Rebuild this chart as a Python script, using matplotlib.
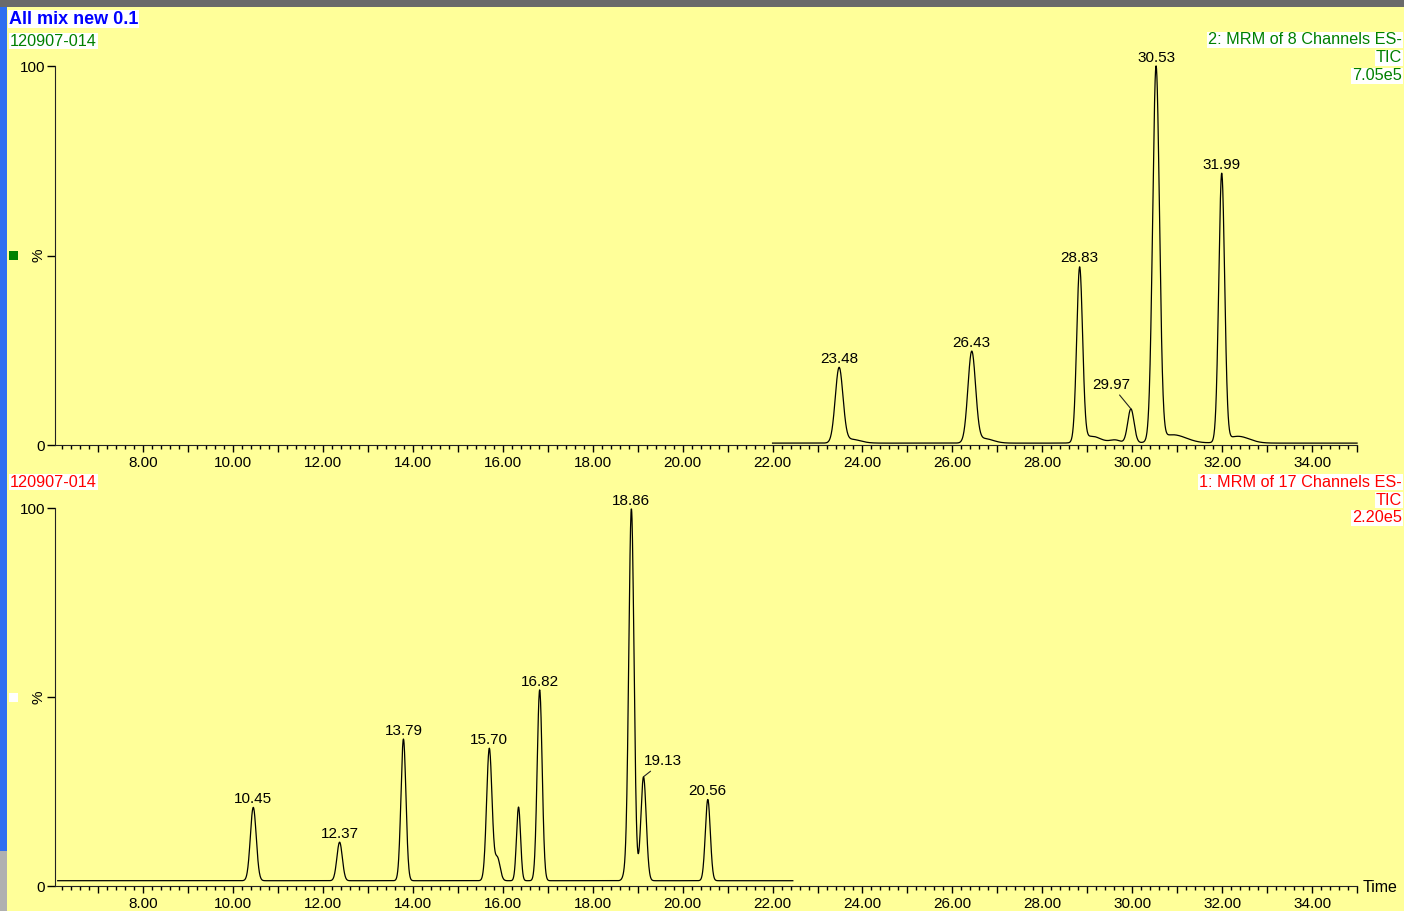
import numpy as np
import matplotlib
matplotlib.use("Agg")
import matplotlib.pyplot as plt
from matplotlib.patches import Rectangle
from matplotlib.ticker import MultipleLocator, FuncFormatter

plt.rcParams['font.family'] = ['Liberation Sans', 'DejaVu Sans']

# ---- data ----
# channel 2 (top): retention time, height (%), width (sigma, min)
top_times = [23.48, 26.43, 28.83, 29.62, 29.97, 30.53, 31.99]
top_heights = [19.6, 23.8, 45.8, 0.8, 9.0, 98.5, 70.6]
top_widths = [0.085, 0.085, 0.065, 0.12, 0.07, 0.075, 0.065]
top_labels = ["23.48", "26.43", "28.83", None, "29.97", "30.53", "31.99"]
# tailing components (time, height, width)
top_tail_t = [23.75, 26.7, 29.1, 30.9, 32.35]
top_tail_h = [1.0, 1.2, 1.8, 2.2, 1.8]
top_tail_w = [0.2, 0.2, 0.2, 0.3, 0.25]
top_range = (22.0, 35.0)
top_base = 0.5

# channel 1 (bottom)
bot_times = [10.45, 12.37, 13.79, 15.70, 15.88, 16.35, 16.82, 18.72, 18.86, 19.13, 20.56]
bot_heights = [19.4, 10.2, 37.5, 35.0, 6.0, 19.5, 50.5, 1.5, 98.4, 27.5, 21.5]
bot_widths = [0.065, 0.06, 0.055, 0.06, 0.06, 0.045, 0.055, 0.05, 0.058, 0.06, 0.055]
bot_labels = ["10.45", "12.37", "13.79", "15.70", None, None, "16.82", None, "18.86", "19.13", "20.56"]
bot_range = (6.1, 22.45)
bot_base = 1.4

X_MIN, X_MAX = 6.04, 35.0
BG = '#FFFF99'


def trace(t, times, heights, widths, base):
    y = np.full_like(t, base)
    for c, h, w in zip(times, heights, widths):
        y += h * np.exp(-0.5 * ((t - c) / w) ** 2)
    return y


def style_axis(ax):
    ax.set_facecolor(BG)
    ax.set_xlim(X_MIN, X_MAX)
    ax.set_ylim(0, 100)
    for s in ['top', 'right']:
        ax.spines[s].set_visible(False)
    ax.spines['left'].set_color('#222222')
    ax.spines['bottom'].set_color('#222222')
    ax.xaxis.set_major_locator(MultipleLocator(1))
    ax.xaxis.set_minor_locator(MultipleLocator(0.2))
    ax.xaxis.set_major_formatter(FuncFormatter(
        lambda v, p: "%.2f" % v if abs(v - round(v)) < 1e-6 and int(round(v)) % 2 == 0 else ""))
    ax.tick_params(axis='x', which='major', length=5, width=1, labelsize=11, pad=3)
    ax.tick_params(axis='x', which='minor', length=3, width=1)
    ax.set_yticks([0, 50, 100])
    ax.set_yticklabels(["0", "%", "100"])
    ax.tick_params(axis='y', length=6, width=1, labelsize=11, pad=1)
    ax.get_yticklabels()[1].set_rotation(90)
    ax.get_yticklabels()[1].set_va('center')


def label_peaks(ax, times, labels, tt, yy, offsets):
    for c, lab in zip(times, labels):
        if lab is None:
            continue
        i = np.argmin(np.abs(tt - c))
        lo = max(i - 10, 0)
        j = lo + np.argmax(yy[lo:i + 10])
        px, py = tt[j], yy[j]
        if lab in offsets:
            dx, dy = offsets[lab]
            ax.annotate(lab, xy=(px, py), xytext=(dx, dy), textcoords='offset points',
                        ha='center', va='bottom', fontsize=11, annotation_clip=False,
                        arrowprops=dict(arrowstyle='-', color='#222222', lw=0.8,
                                        shrinkA=0, shrinkB=0))
        else:
            ax.annotate(lab, xy=(px, py), xytext=(0, 1), textcoords='offset points',
                        ha='center', va='bottom', fontsize=11, annotation_clip=False)


fig = plt.figure(figsize=(14.04, 9.11), dpi=100)
fig.patch.set_facecolor(BG)

W, H = 1404.0, 911.0
ax1 = fig.add_axes([55 / W, 1 - 445 / H, (X_MAX - X_MIN) * 44.96 / W, (445 - 66) / H])
ax2 = fig.add_axes([55 / W, 1 - 886 / H, (X_MAX - X_MIN) * 44.96 / W, (886 - 508) / H])

for ax in (ax1, ax2):
    style_axis(ax)

t1 = np.linspace(top_range[0], top_range[1], 3000)
y1 = trace(t1, top_times, top_heights, top_widths, top_base) + \
    trace(t1, top_tail_t, top_tail_h, top_tail_w, 0)
ax1.plot(t1, y1, color='black', lw=0.9, clip_on=False)
label_peaks(ax1, top_times, top_labels, t1, y1, {"29.97": (-14, 12)})

t2 = np.linspace(bot_range[0], bot_range[1], 3000)
y2 = trace(t2, bot_times, bot_heights, bot_widths, bot_base)
ax2.plot(t2, y2, color='black', lw=0.9, clip_on=False)
label_peaks(ax2, bot_times, bot_labels, t2, y2, {"19.13": (14, 6)})

# header / channel texts
def ftext(x, y, s, color, size=11.7, weight='normal', ha='left'):
    fig.text(x / W, 1 - y / H, s, color=color, fontsize=size, fontweight=weight,
             ha=ha, va='center',
             bbox=dict(facecolor='white', edgecolor='none', pad=0.6))

ftext(9, 19, "All mix new 0.1", '#0000FF', size=13, weight='bold')
ftext(10, 41, "120907-014", '#008000')
ftext(10, 482, "120907-014", '#FF0000')
for yy, s in zip([40, 58, 76], ["2: MRM of 8 Channels ES-", "TIC", "7.05e5"]):
    ftext(1402, yy, s, '#008000', ha='right')
for yy, s in zip([482, 500, 518], ["1: MRM of 17 Channels ES-", "TIC", "2.20e5"]):
    ftext(1402, yy, s, '#FF0000', ha='right')

fig.text(1363 / W, 1 - 887 / H, "Time", fontsize=11.5, ha='left', va='center')

# channel colour squares
fig.patches.append(Rectangle((9 / W, 1 - 260 / H), 9 / W, 9 / H, transform=fig.transFigure,
                             facecolor='#008000', edgecolor='none'))
fig.patches.append(Rectangle((9 / W, 1 - 702 / H), 9 / W, 9 / H, transform=fig.transFigure,
                             facecolor='white', edgecolor='none'))

# screenshot borders
fig.patches.append(Rectangle((0, 0), 7 / W, 1, transform=fig.transFigure,
                             facecolor='#2f6ff0', edgecolor='none'))
fig.patches.append(Rectangle((0, 0), 7 / W, 60 / H, transform=fig.transFigure,
                             facecolor='#b0b0b0', edgecolor='none'))
fig.patches.append(Rectangle((0, 1 - 7 / H), 1, 7 / H, transform=fig.transFigure,
                             facecolor='#6a6a6a', edgecolor='none'))

plt.savefig("out.png", dpi=100, facecolor=fig.get_facecolor())
